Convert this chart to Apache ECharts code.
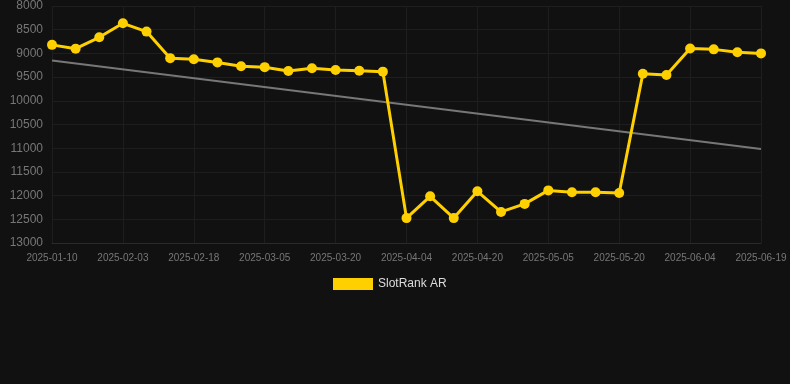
<!DOCTYPE html>
<html>
<head>
<meta charset="utf-8">
<script src="https://cdn.jsdelivr.net/npm/echarts@6/dist/echarts.min.js"></script>
<style>
html,body{margin:0;padding:0;background:#111111;}
#main{width:790px;height:384px;}
</style>
</head>
<body>
<div id="main"></div>
<script>
// dates on the x axis
var dates = ['2025-01-10','2025-01-18','2025-01-26','2025-02-03','2025-02-08','2025-02-13','2025-02-18',
    '2025-02-23','2025-02-28','2025-03-05','2025-03-10','2025-03-15','2025-03-20','2025-03-25','2025-03-30',
    '2025-04-04','2025-04-09','2025-04-14','2025-04-20','2025-04-25','2025-04-30','2025-05-05','2025-05-10',
    '2025-05-15','2025-05-20','2025-05-25','2025-05-30','2025-06-04','2025-06-09','2025-06-14','2025-06-19'];
// rank values
var ranks = [8820,8900,8660,8365,8540,9100,9125,9190,9270,9290,9370,9315,9350,9365,9385,
    12475,12015,12475,11910,12345,12175,11890,11930,11930,11945,9430,9455,8895,8915,8975,9000];
// trend line end points
var trendStart = 9150;
var trendEnd = 11015;

var myChart = echarts.init(document.getElementById('main'));
myChart.setOption({
    backgroundColor: '#111111',
    animation: false,
    grid: {left: 52, right: 29, top: 6, bottom: 141},
    legend: {
        top: 273,
        left: 328,
        itemWidth: 40,
        itemHeight: 12,
        itemGap: 6,
        textStyle: {color: '#dddddd', fontSize: 12},
        data: [{name: 'SlotRank AR', icon: 'rect'}]
    },
    xAxis: {
        type: 'category',
        boundaryGap: false,
        data: dates,
        axisLine: {show: true, lineStyle: {color: '#2a2a2a'}},
        axisTick: {show: false},
        axisLabel: {color: '#777777', fontSize: 10, interval: 2, margin: 10},
        splitLine: {show: true, interval: 2, lineStyle: {color: '#1e1e1e'}}
    },
    yAxis: {
        type: 'value',
        inverse: true,
        min: 8000,
        max: 13000,
        interval: 500,
        axisLine: {show: false},
        axisTick: {show: false},
        axisLabel: {color: '#777777', fontSize: 12, margin: 9, formatter: function(v){ return String(v); }},
        splitLine: {show: true, lineStyle: {color: '#1e1e1e'}}
    },
    series: [
        {
            name: 'SlotRank AR',
            type: 'line',
            data: ranks,
            symbol: 'circle',
            symbolSize: 10,
            itemStyle: {color: '#ffd000'},
            lineStyle: {color: '#ffd000', width: 3},
            z: 3
        },
        {
            name: 'trend',
            type: 'line',
            data: [[dates[0], trendStart], [dates[dates.length - 1], trendEnd]],
            symbol: 'none',
            lineStyle: {color: '#777777', width: 2},
            z: 2
        }
    ]
});
</script>
</body>
</html>
